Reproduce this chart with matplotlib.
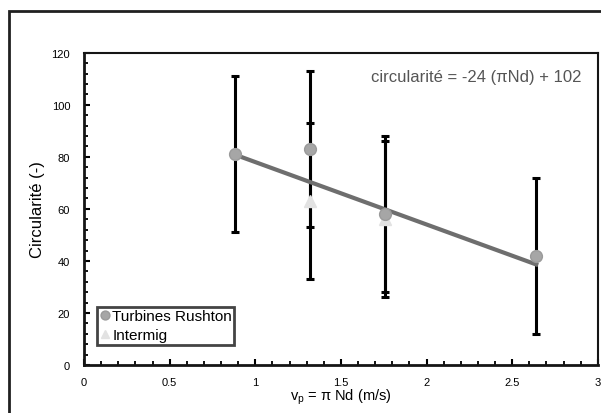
import numpy as np
import matplotlib.pyplot as plt
from matplotlib.patches import Rectangle

plt.rcParams['font.family'] = ['Liberation Sans', 'DejaVu Sans']

# --- data ---
rushton_x = [0.88, 1.32, 1.76, 2.64]
rushton_y = [81, 83, 58, 42]
rushton_err = [30, 30, 30, 30]

intermig_x = [1.32, 1.76]
intermig_y = [63, 56]
intermig_err = [30, 30]

slope = -24
intercept = 102
fit_x = np.array([0.88, 2.64])

fig = plt.figure(figsize=(6.01, 4.14), dpi=100)
ax = fig.add_axes([0.1398, 0.116, 0.855, 0.754])

# outer frame of the figure
fig.patches.append(Rectangle((9 / 601, -0.05), 1.2, 0.971 + 0.05,
                             transform=fig.transFigure, fill=False,
                             edgecolor='#202020', linewidth=2.0))

# error bars
ax.errorbar(rushton_x, rushton_y, yerr=rushton_err, fmt='none',
            ecolor='black', elinewidth=2.2, capsize=3, capthick=2.2, zorder=2)
ax.errorbar(intermig_x, intermig_y, yerr=intermig_err, fmt='none',
            ecolor='black', elinewidth=2.2, capsize=3, capthick=2.2, zorder=2)

# linear fit
ax.plot(fit_x, slope * fit_x + intercept, color='#6e6e6e', linewidth=3, zorder=3)

# points
ax.plot(intermig_x, intermig_y, linestyle='none', marker='^', markersize=8,
        color='#e2e2e2', markeredgecolor='#e2e2e2', label='Intermig', zorder=4)
ax.plot(rushton_x, rushton_y, linestyle='none', marker='o', markersize=8.5,
        color='#a6a6a6', markeredgecolor='#9a9a9a', label='Turbines Rushton', zorder=5)

ax.set_xlim(0, 3)
ax.set_ylim(0, 120)
ax.set_xticks([0, 0.5, 1, 1.5, 2, 2.5, 3])
ax.set_xticklabels(['0', '0.5', '1', '1.5', '2', '2.5', '3'])
ax.set_yticks([0, 20, 40, 60, 80, 100, 120])
ax.set_xticks(np.arange(0, 3.01, 0.1), minor=True)
ax.set_yticks(np.arange(0, 120.1, 4), minor=True)
ax.tick_params(which='major', direction='in', length=4, width=1.5,
               labelsize=8, pad=9)
ax.tick_params(which='minor', direction='in', length=3, width=1.3)
ax.tick_params(axis='y', which='major', pad=10)

for side in ['left', 'bottom']:
    ax.spines[side].set_linewidth(2.0)
for side in ['top', 'right']:
    ax.spines[side].set_linewidth(1.5)
for s in ax.spines.values():
    s.set_color('#151515')

ax.set_ylabel('Circularité (-)', fontsize=12, labelpad=5)
ax.set_xlabel('v$_\\mathregular{p}$ = π Nd (m/s)', fontsize=10.5, labelpad=-1)

ax.text(0.969, 0.925, 'circularité = -24 (πNd) + 102', transform=ax.transAxes,
        ha='right', va='center', fontsize=12, color='#555555')

handles, labels = ax.get_legend_handles_labels()
leg = ax.legend(handles[::-1], labels[::-1], loc='lower left',
                bbox_to_anchor=(0.025, 0.065), fontsize=11, frameon=True,
                fancybox=False, borderpad=0.15, handletextpad=0.15,
                handlelength=0.7, labelspacing=0.35, borderaxespad=0,
                markerscale=0.75)
leg.get_frame().set_edgecolor('#151515')
leg.get_frame().set_linewidth(2.0)

fig.savefig('out.png', dpi=100)
